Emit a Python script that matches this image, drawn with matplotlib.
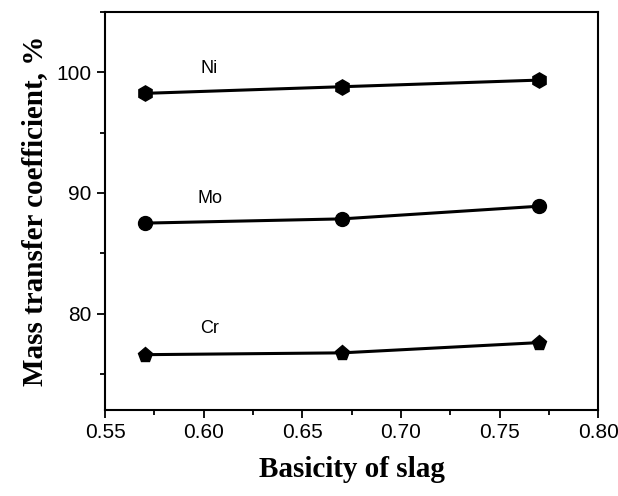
import numpy as np
import matplotlib
matplotlib.use('Agg')
import matplotlib.pyplot as plt
from matplotlib.ticker import MultipleLocator

basicity = [0.57, 0.67, 0.77]
ni = [98.25, 98.8, 99.35]
mo = [87.5, 87.85, 88.9]
cr = [76.6, 76.75, 77.6]

fig = plt.figure(figsize=(6.18, 4.96), dpi=100)
ax = fig.add_axes([0.170, 0.173, 0.798, 0.803])

ax.plot(basicity, ni, '-', color='black', lw=2.2, marker='h', ms=11)
ax.plot(basicity, mo, '-', color='black', lw=2.2, marker='o', ms=10)
ax.plot(basicity, cr, '-', color='black', lw=2.2, marker='p', ms=11)

#series names sit just above each line
lab = dict(fontsize=13, family='Liberation Sans', ha='center', va='center')
ax.text(0.603, 100.3, 'Ni', **lab)
ax.text(0.603, 89.5, 'Mo', **lab)
ax.text(0.603, 78.8, 'Cr', **lab)

ax.set_xlim(0.55, 0.80)
ax.set_ylim(72, 105)
ax.set_xticks([0.55, 0.60, 0.65, 0.70, 0.75, 0.80])
ax.set_yticks([80, 90, 100])
ax.xaxis.set_minor_locator(MultipleLocator(0.025))
ax.yaxis.set_minor_locator(MultipleLocator(5))
ax.tick_params(which='major', length=6, width=1.3, labelsize=15, direction='out')
ax.tick_params(which='minor', length=3.5, width=1.3, direction='out')
for lbl in ax.get_xticklabels() + ax.get_yticklabels():
        lbl.set_family('Liberation Sans')
for s in ax.spines.values():
        s.set_linewidth(1.5)

ax.set_xlabel('Basicity of slag', fontsize=21, fontweight='bold', family='Liberation Serif', labelpad=10)
ax.set_ylabel('Mass transfer coefficient, %', fontsize=21, fontweight='bold', family='Liberation Serif', labelpad=6)

fig.savefig('out.png', dpi=100)
